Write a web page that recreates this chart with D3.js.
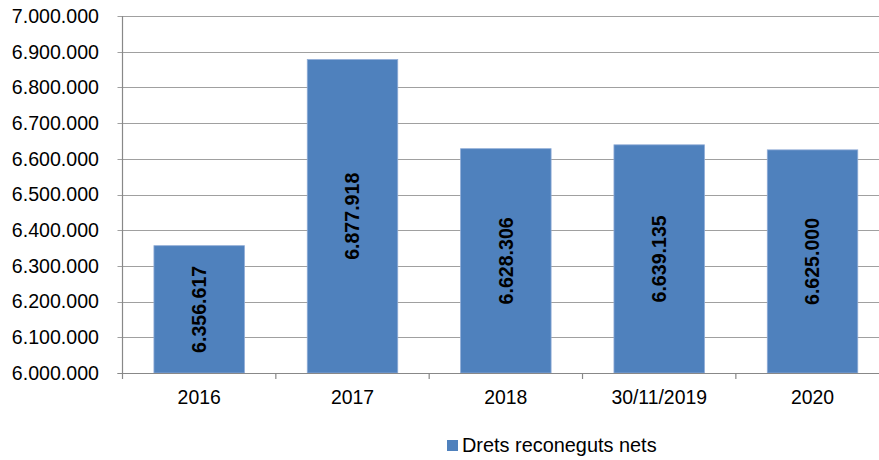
<!DOCTYPE html>
<html>
<head>
<meta charset="utf-8">
<script src="https://cdn.jsdelivr.net/npm/d3@7"></script>
<style>
html, body { margin: 0; padding: 0; background: #fff; }
svg { display: block; font-family: "Liberation Sans", Arial, sans-serif; }
</style>
</head>
<body>
<svg id="chart" width="879" height="460"></svg>
<script>
const categories = ["2016", "2017", "2018", "30/11/2019", "2020"];
const values = [6356617, 6877918, 6628306, 6639135, 6625000];
const yTicks = [6000000, 6100000, 6200000, 6300000, 6400000, 6500000, 6600000, 6700000, 6800000, 6900000, 7000000];
const seriesName = "Drets reconeguts nets";

(function () {
const loc = d3.formatLocale({decimal: ",", thousands: ".", grouping: [3], currency: ["", " €"]});
const fmt = loc.format(",d");

const svg = d3.select("#chart");
const pLeft = 122.5, pRight = 889.2, pTop = 16, pBottom = 373;

const x = d3.scaleBand().domain(categories).range([pLeft, pRight]).paddingInner(0.41).paddingOuter(0.205);
const y = d3.scaleLinear().domain([6000000, 7000000]).range([pBottom, pTop]);
const step = x.step();

// gridlines
svg.append("g").selectAll("line").data(yTicks).join("line")
  .attr("x1", pLeft - 5).attr("x2", pRight)
  .attr("y1", d => Math.round(y(d)) + 0.5).attr("y2", d => Math.round(y(d)) + 0.5)
  .attr("stroke", "#a0a0a0").attr("stroke-width", 1.2);

// y tick labels
svg.append("g").selectAll("text").data(yTicks).join("text")
  .attr("x", 99).attr("y", d => y(d)).attr("dy", "0.35em")
  .attr("text-anchor", "end").attr("font-size", 19.6).attr("fill", "#000")
  .text(d => fmt(d));

// bars
svg.append("g").selectAll("rect").data(values).join("rect")
  .attr("x", (d, i) => x(categories[i]))
  .attr("width", x.bandwidth())
  .attr("y", d => y(d))
  .attr("height", d => y(6000000) - y(d))
  .attr("fill", "#4f81bd")
  .attr("stroke", "#8eabd6").attr("stroke-width", 0.8);

// y axis line
svg.append("line").attr("x1", pLeft).attr("x2", pLeft).attr("y1", pTop).attr("y2", pBottom)
  .attr("stroke", "#888").attr("stroke-width", 1.2);
// x axis line
svg.append("line").attr("x1", pLeft - 5).attr("x2", pRight).attr("y1", pBottom + 0.5).attr("y2", pBottom + 0.5)
  .attr("stroke", "#888").attr("stroke-width", 1.2);
// x ticks at band boundaries
const bounds = categories.map(c => x(c) - step * x.paddingInner() / 2).concat([pRight]);
svg.append("g").selectAll("line").data(bounds).join("line")
  .attr("x1", d => d).attr("x2", d => d).attr("y1", pBottom).attr("y2", pBottom + 6)
  .attr("stroke", "#888").attr("stroke-width", 1.2);

// x labels
svg.append("g").selectAll("text").data(categories).join("text")
  .attr("x", d => x(d) + x.bandwidth() / 2).attr("y", 404)
  .attr("text-anchor", "middle").attr("font-size", 19.4).attr("fill", "#000")
  .text(d => d);

// value labels
svg.append("g").selectAll("text").data(values).join("text")
  .attr("transform", (d, i) => {
    const cx = x(categories[i]) + x.bandwidth() / 2;
    const cy = (y(d) + y(6000000)) / 2;
    return `translate(${cx},${cy}) rotate(-90)`;
  })
  .attr("text-anchor", "middle").attr("dy", "0.35em")
  .attr("font-size", 19.6).attr("font-weight", "bold").attr("fill", "#000")
  .text(d => fmt(d));

// legend
const lg = svg.append("g");
lg.append("rect").attr("x", 447).attr("y", 440).attr("width", 11).attr("height", 11).attr("fill", "#4f81bd");
lg.append("text").attr("x", 462).attr("y", 452).attr("font-size", 19.9).attr("fill", "#000").text(seriesName);
})();
</script>
</body>
</html>
